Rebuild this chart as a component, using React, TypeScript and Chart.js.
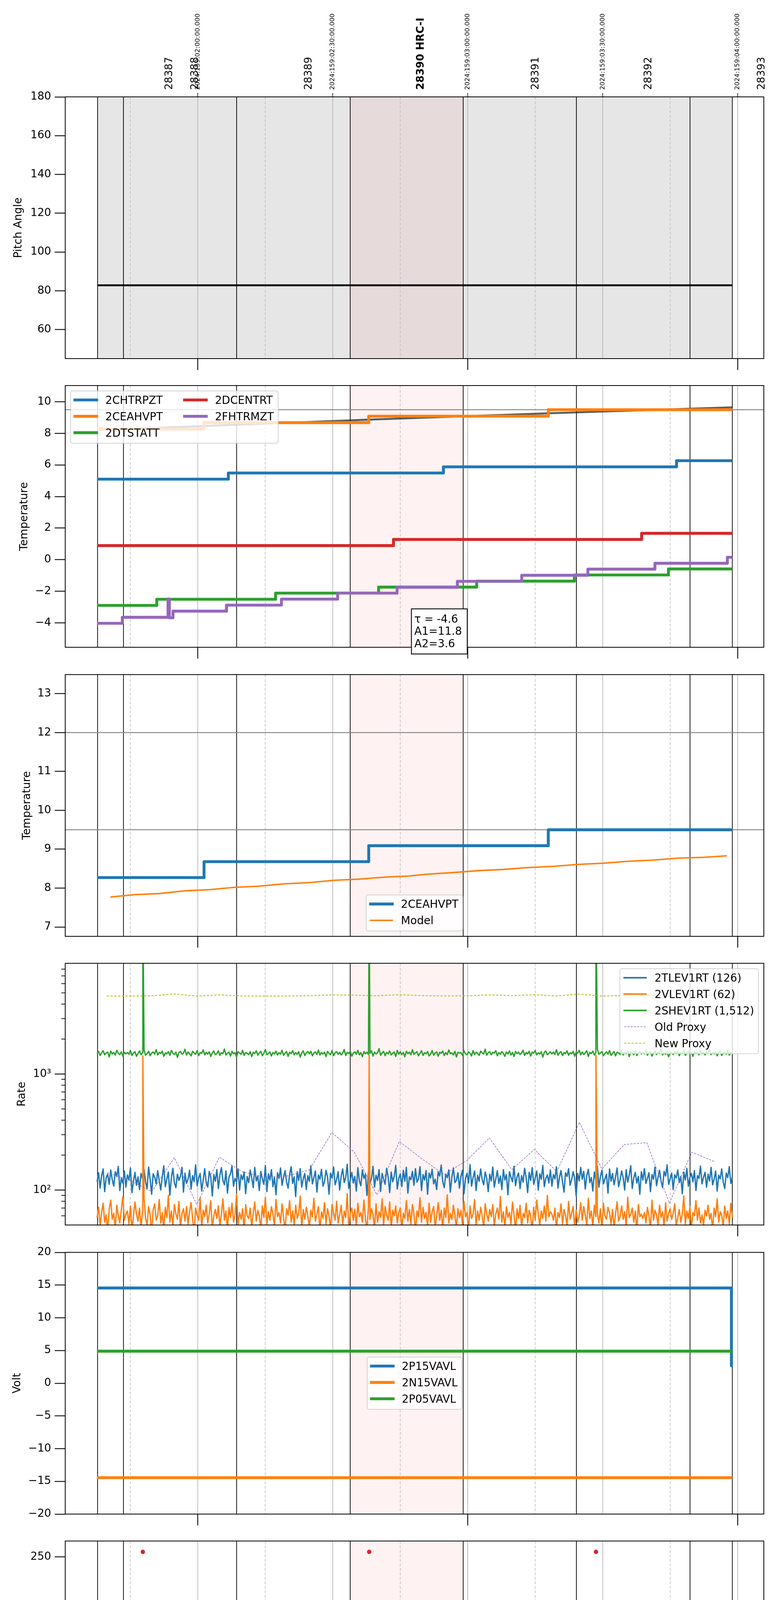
import { useEffect, useRef } from 'react';
import Chart from 'chart.js/auto';

Chart.defaults.font.family = 'DejaVu Sans';
Chart.defaults.color = '#000';

const FONT = 'DejaVu Sans';
const FS = 27.8;

// x axis in minutes after 22:00 local (= 2024:159:02:00:00 UTC)
const X_MIN = -29.45;
const X_MAX = 125.8;

const PANEL_TOPS = [248, 987, 1727, 2466, 3206, 3945, 4685, 5424];
const PANEL_H = 670;

const obsEdges = [-22.26, -16.5, 8.64, 33.88, 59.0, 84.15, 109.4, 118.8];
const hrcSpan = [33.88, 59.0];
const dataSpan = [-22.37, 118.8];
const obsLabels = ['28387', '28388', '28389', '28390 HRC-I', '28391', '28392', '28393'];
const obsLabelAt = [-6.3, -0.55, 24.7, 49.6, 75.1, 100.2, 125.4];
const utcTickAt = [0, 30, 60, 90, 120];
const utcLabels = ['2024:159:02:00:00.000', '2024:159:02:30:00.000', '2024:159:03:00:00.000', '2024:159:03:30:00.000', '2024:159:04:00:00.000'];
const halfHours = [0, 30, 60, 90, 120];
const quarters = [-15, 15, 45, 75, 105];
const hourTicks = [0, 60, 120];
const hourLabels = ['22h', '23h', '00h'];
const minorTickAt = [-15, 15, 30, 45, 75, 90, 105];
const minorLabels = ['45', '15', '30', '45', '15', '30', '45'];
const logMinor = [60, 70, 80, 90, 200, 300, 400, 500, 600, 700, 800, 900, 2000, 3000, 4000, 5000, 6000, 7000, 8000];

type P = [number, number][];

// ---- panel 1
const pitch: P = [[-22.26, 82.8], [118.8, 82.8]];

// ---- panel 2 / 3
const chtrpzt: P = [[-22.37, 5.1], [6.8, 5.49], [54.6, 5.88], [106.4, 6.27], [118.8, 6.27]];
const ceahvpt: P = [[-22.37, 8.27], [1.4, 8.68], [38.0, 9.09], [77.9, 9.5], [118.8, 9.5]];
const dtstatt: P = [[-22.37, -2.9], [-9.1, -2.51], [17.3, -2.12], [40.2, -1.74], [62.0, -1.36], [83.7, -0.97], [104.6, -0.59], [118.8, -0.59]];
const dcentrt: P = [[-22.37, 0.89], [43.5, 1.28], [98.65, 1.67], [118.8, 1.67]];
const fhtrmzt: P = [[-22.37, -4.03], [-16.76, -3.65], [-6.6, -2.49], [-6.3, -3.68], [-5.5, -3.26], [6.4, -2.88], [18.6, -2.5], [31.1, -2.12], [44.3, -1.75], [57.7, -1.37], [72.0, -0.99], [86.7, -0.6], [101.6, -0.23], [117.7, 0.15], [118.8, 0.15]];
const ceaModelT = [-22.37, 0, 38, 78, 118.8];
const ceaModelV = [8.22, 8.45, 8.87, 9.27, 9.65];
const modelT = [-19.4, -14.1, -8.5, -3.0, 2.5, 8.1, 13.6, 19.2, 24.7, 30.2, 35.8, 41.3, 46.9, 51.3, 56.8, 62.4, 67.9, 73.5, 79.0, 84.5, 90.1, 95.6, 101.2, 106.7, 112.2, 117.6];
const modelV = [7.77, 7.83, 7.86, 7.93, 7.96, 8.02, 8.05, 8.11, 8.14, 8.2, 8.23, 8.28, 8.31, 8.36, 8.4, 8.45, 8.48, 8.53, 8.56, 8.61, 8.64, 8.69, 8.72, 8.77, 8.79, 8.83];

// ---- panel 4 (rates, evenly sampled over the data span)
const tlev1rt = [
  118,141,104,133,152,97,128,137,112,149,123,108,144,131,160,99,127,115,146,106,
  135,122,155,95,119,142,110,130,101,139,126,151,117,103,158,124,92,138,129,113,
  147,120,100,131,162,107,125,143,90,128,154,116,105,137,121,132,157,96,140,114,
  124,148,102,133,118,165,109,127,139,98,122,153,115,106,145,130,89,136,119,150,
  103,134,156,121,111,146,94,129,138,161,108,126,117,152,100,135,123,143,93,131,
  116,149,127,105,157,120,132,99,145,125,112,163,97,138,122,150,107,128,91,141,
  126,155,110,129,147,117,104,136,159,114,130,88,144,121,153,106,125,139,101,133,
  119,162,113,128,146,96,135,124,151,108,118,148,130,92,140,127,158,111,123,144,
  100,132,152,116,128,167,103,122,142,115,131,98,156,120,109,149,126,137,90,145,
  114,127,160,106,134,121,150,97,139,124,112,154,129,95,143,118,131,163,102,126,
  138,107,148,119,157,94,130,123,145,110,153,117,125,159,99,136,122,147,92,140,
  127,151,113,124,101,144,132,164,118,105,137,128,149,96,129,155,116,121,141,104,
  131,148,93,126,139,115,166,108,128,146,99,134,119,152,123,111,143,127,97,137,
  120,158,106,125,147,114,132,101,150,122,136,91,144,129,118,161,109,130,140,103,
  133,117,154,128,95,142,121,156,112,127,146,100,138,124,163,107,126,135,115,149,
  108,136,125,159,104,129,147,118,96,141,131,153,110,122,144,127,89,139,120,157,
  124,145,102,133,151,116,128,98,143,121,160,106,130,148,113,125,137,94,152,119,
  139,111,130,155,107,123,146,128,100,150,117,134,162,103,127,142,115,131,92,144,
  122,153,114,126,141,97,136,124,158,109,129,148,119,105,145,132,165,112,125,140,
  101,135,127,149,116,131,93,143,122,154,108,128,139,118,147,99,133,126,161,113,
  129,142,106,137,120,157,111,124,146,98,134,125,152,117,103,140,128,159,114,130,
];
const vlev1rt = [
  58,71,49,64,77,53,61,44,69,82,56,63,47,74,60,52,67,88,55,62,
  66,51,73,45,59,79,62,54,70,48,65,85,57,50,72,61,43,68,76,55,
  60,83,52,64,46,71,58,90,53,66,49,75,62,56,80,47,63,69,54,72,
  51,65,78,57,42,70,61,55,86,48,67,59,74,52,63,81,46,60,68,57,
  73,49,62,84,55,66,45,71,58,77,53,61,92,50,64,56,69,44,75,60,
  57,70,48,63,79,54,67,60,46,73,58,87,51,65,55,72,62,49,83,59,
  64,52,76,58,45,69,61,81,53,66,50,74,57,63,89,47,68,56,71,60,
  48,67,59,85,54,62,72,44,65,57,78,51,69,60,46,75,63,55,80,52,
  61,74,50,66,58,93,47,63,70,55,68,49,77,59,64,53,82,57,45,71,
  56,69,62,47,76,53,65,58,84,50,72,61,55,79,48,67,60,73,52,64,
  70,46,63,57,81,54,68,51,75,62,44,66,59,86,53,71,57,64,49,77,
  53,65,72,48,60,78,55,67,46,70,58,91,52,63,56,74,61,47,69,58,
  67,51,80,59,64,45,73,57,62,83,50,66,55,71,60,48,76,63,54,68,
  59,75,49,62,70,56,88,53,65,47,72,58,64,51,79,61,45,69,57,74,
  48,63,58,77,52,67,60,44,71,55,82,62,50,66,57,73,54,90,59,65,
  62,55,70,46,64,58,76,51,68,61,49,80,56,63,72,47,67,53,60,78,
  55,72,61,50,85,57,66,48,74,59,63,52,69,45,77,60,56,71,64,51,
  68,47,63,79,54,60,73,56,65,49,87,58,62,70,53,66,44,75,59,62,
  57,64,52,71,60,46,82,55,67,61,50,74,58,65,48,78,54,63,69,56,
  63,76,49,58,68,53,62,89,51,66,57,72,47,64,60,81,55,70,52,61,
  50,67,60,74,56,63,45,70,59,84,53,65,61,48,73,57,66,51,77,58,
];
const shev1rt = [
  1496,1562,1441,1528,1587,1463,1519,1545,1402,1573,1488,1534,1455,1601,1507,1470,1550,1426,1539,1492,
  1531,1478,1594,1443,1515,1556,1421,1502,1580,1465,1524,1609,1451,1497,1568,1436,1511,1547,1484,1620,
  1459,1536,1502,1575,1418,1521,1489,1559,1447,1596,1508,1472,1541,1392,1527,1565,1480,1513,1634,1454,
  1548,1493,1431,1566,1517,1476,1589,1438,1529,1505,1612,1462,1537,1486,1553,1415,1522,1578,1468,1500,
  1583,1448,1525,1494,1640,1457,1512,1543,1425,1569,1490,1531,1404,1552,1518,1477,1598,1445,1534,1506,
  1470,1557,1413,1538,1501,1585,1452,1520,1567,1435,1509,1624,1466,1499,1546,1428,1532,1487,1574,1458,
  1526,1485,1603,1449,1514,1560,1420,1540,1497,1592,1461,1528,1475,1555,1398,1516,1581,1440,1523,1563,
  1491,1571,1432,1519,1549,1474,1606,1456,1530,1483,1542,1412,1564,1503,1469,1590,1437,1525,1558,1479,
  1537,1460,1511,1627,1444,1535,1499,1572,1423,1518,1554,1481,1599,1464,1529,1408,1561,1495,1540,1471,
  1505,1584,1427,1544,1487,1520,1653,1450,1515,1566,1439,1532,1492,1577,1458,1510,1547,1417,1596,1484,
  1553,1467,1532,1409,1570,1498,1543,1461,1617,1476,1524,1556,1433,1508,1585,1446,1527,1489,1562,1430,
  1480,1595,1453,1517,1551,1422,1539,1507,1576,1442,1530,1468,1610,1494,1521,1459,1568,1401,1536,1513,
  1528,1447,1582,1497,1463,1547,1515,1429,1593,1472,1541,1505,1445,1573,1516,1488,1636,1451,1520,1557,
  1465,1538,1511,1588,1434,1526,1479,1560,1502,1419,1549,1487,1579,1457,1533,1414,1565,1496,1543,1473,
  1516,1602,1443,1532,1490,1569,1428,1545,1512,1597,1460,1521,1485,1554,1396,1535,1578,1466,1509,1550,
  1487,1544,1474,1615,1452,1518,1561,1438,1530,1500,1583,1449,1527,1492,1566,1424,1540,1510,1604,1462,
  1548,1470,1523,1586,1416,1537,1499,1574,1455,1529,1644,1478,1514,1558,1436,1506,1552,1483,1591,1447,
  1503,1563,1431,1541,1518,1475,1599,1458,1536,1495,1571,1411,1546,1525,1464,1587,1441,1520,1556,1486,
  1532,1489,1608,1450,1527,1553,1426,1511,1580,1468,1539,1496,1625,1457,1522,1475,1562,1406,1544,1515,
  1471,1550,1498,1576,1439,1531,1507,1593,1446,1519,1561,1482,1535,1418,1570,1501,1530,1463,1589,1494,
  1524,1459,1542,1513,1628,1467,1537,1490,1557,1433,1526,1575,1448,1508,1548,1479,1605,1454,1529,1502,
];
const spikeT = [-12.2, 38.1, 88.5];
const shevSpikeV = [30000, 30000, 30000];
const vlevSpikeV = [1430, 1450, 1450];
const proxyT = [-20.2, -15.2, -10.2, -5.2, -0.2, 4.8, 9.8, 14.8, 19.8, 24.8, 29.8, 34.8, 39.8, 44.8, 49.8, 54.8, 59.8, 64.8, 69.8, 74.8, 79.8, 84.8, 89.8, 94.8, 99.8, 104.8, 109.8, 114.8];
const oldProxy = [141, 122, 97, 190, 75, 192, 144, 129, 132, 149, 313, 212, 91, 262, 186, 136, 180, 281, 150, 224, 144, 384, 152, 247, 256, 77, 212, 176];
const newProxy = [4690, 4690, 4720, 4880, 4690, 4800, 4700, 4690, 4700, 4720, 4800, 4780, 4720, 4820, 4740, 4700, 4720, 4800, 4740, 4820, 4700, 4880, 4690, 4740, 4780, 4740, 4740, 4740];

// ---- panel 5
const p15vavl: P = [[-22.37, 14.55], [118.6, 2.67], [118.8, 2.67]];
const n15vavl: P = [[-22.37, -14.44], [118.8, -14.44]];
const p05vavl: P = [[-22.37, 4.9], [118.8, 4.9]];

// ---- panel 6 (evenly sampled over the data span)
const imhvlv = [
  79,79,80,79,79,79,81,79,79,80,79,79,79,79,80,79,79,81,79,79,
  80,79,79,79,79,80,79,79,79,81,79,79,80,79,79,79,79,80,79,79,
  79,81,79,79,80,79,79,79,79,79,80,79,81,79,79,79,80,79,79,79,
  79,80,79,79,79,81,79,80,79,79,79,79,80,79,79,81,79,79,79,80,
  79,79,79,80,79,79,81,79,79,79,80,79,79,79,79,80,79,81,79,79,
  80,79,79,79,81,79,79,80,79,79,79,79,80,79,79,79,81,79,80,79,
  79,79,80,79,79,81,79,79,79,80,79,79,79,79,80,79,81,79,79,79,
  80,79,79,81,79,79,80,79,79,79,79,80,79,79,81,79,79,79,80,79,
  79,81,79,79,80,79,79,79,79,80,79,79,81,79,79,80,79,79,79,80,
  79,79,80,79,81,79,79,79,80,79,79,79,79,81,79,80,79,79,79,79,
  80,79,79,79,79,80,79,81,79,79,79,80,79,79,79,79,80,79,79,81,
  79,80,79,79,81,79,79,79,80,79,79,79,80,79,79,81,79,79,80,79,
  79,79,79,80,79,79,79,81,79,80,79,79,79,79,80,79,79,79,81,79,
  81,79,79,80,79,79,79,79,80,79,81,79,79,79,80,79,79,79,79,80,
  79,79,81,79,79,80,79,79,79,79,81,79,80,79,79,79,79,80,79,79,
  80,79,79,79,80,79,81,79,79,79,79,80,79,79,81,79,79,80,79,79,
  79,80,79,79,79,81,79,79,80,79,79,79,79,80,79,79,81,79,79,79,
  79,79,80,79,79,79,81,79,79,80,79,79,79,80,79,79,79,81,79,80,
];
const imhblv = [
  86,86,86,86,86,86,86,86,86,86,86,86,86,86,86,86,86,86,86,86,
  86,86,86,86,86,86,86,86,86,86,86,86,86,86,86,86,86,86,86,86,
  86,86,86,86,86,86,86,86,86,86,86,86,86,86,86,86,86,86,86,86,
  86,86,86,86,86,86,86,86,86,86,86,86,86,86,86,86,86,86,86,86,
  86,86,86,86,86,86,86,86,86,86,86,86,86,86,86,86,86,86,86,86,
  86,86,86,86,86,86,86,86,86,86,86,86,86,86,86,86,86,86,86,86,
  86,86,86,86,86,86,86,86,86,86,86,86,86,86,86,86,86,86,86,86,
  86,86,86,86,86,86,86,86,86,86,86,86,86,86,86,86,86,86,86,86,
  86,86,86,86,86,86,86,86,86,86,86,86,86,86,86,86,86,86,86,86,
  86,86,86,86,86,86,86,86,86,86,86,86,86,86,86,86,86,86,86,86,
  86,86,86,86,86,86,86,86,86,86,86,86,86,86,86,86,86,86,86,86,
  86,86,86,86,86,86,86,86,86,86,86,86,86,86,86,86,86,86,86,86,
  86,86,86,86,86,86,86,86,86,86,86,86,86,86,86,86,86,86,86,86,
  86,86,86,86,86,86,86,86,86,86,86,86,86,86,86,86,86,86,86,86,
  86,86,86,86,86,86,86,86,86,86,86,86,86,86,86,86,86,86,86,86,
  86,86,86,86,86,86,86,86,86,86,86,86,86,86,86,86,86,86,86,86,
  86,86,86,86,86,86,86,86,86,86,86,86,86,86,86,86,86,86,86,86,
  86,86,86,86,86,86,86,86,86,86,86,86,86,86,86,86,86,86,86,86,
];
const imhvlvOutT = [-21.8, -14.6, -11.3];
const imhvlvOutV = [127, 127, 127];
const imhblvOutT = [-21.8, -14.6, -11.3, -12.2, 38.1, 88.5];
const imhblvOutV = [79, 79, 79, 255, 255, 255];

// ---- panel 7
const spinatm: P = [[-22.37, 2.69], [-22.0, -3], [-21.7, 2.69], [-21.2, -3], [-20.9, 2.69], [-20.3, -3], [-20.0, 2.69], [-19.5, -3], [-19.2, 2.69], [-18.7, -3], [-18.4, 2.69], [-14.6, -3], [-14.3, 2.69], [-11.0, -3], [-10.7, 2.69], [-10.4, -3], [-10.1, 2.69], [20.26, 3.16], [111.9, 3.65], [118.8, 3.65]];
const sphvatm: P = [[-22.37, 15.69], [-22.0, 9.33], [-21.7, 15.69], [-21.2, 9.33], [-20.9, 15.69], [-20.3, 9.33], [-20.0, 15.69], [-19.5, 9.33], [-19.2, 15.69], [-18.7, 9.33], [-18.4, 15.69], [-14.6, 9.33], [-14.3, 15.69], [-11.0, 9.6], [-10.7, 15.69], [-10.4, 9.6], [-10.1, 15.69], [-2.44, 16.03], [1.2, 15.62], [1.4, 16.03], [28.0, 16.38], [28.4, 16.03], [29.1, 16.38], [60.7, 16.73], [65.7, 16.38], [65.9, 16.73], [94.4, 17.09], [118.8, 17.09]];
const iminatm: P = [[-22.37, 0.81], [-22.0, 2.76], [-21.7, 0.81], [-21.2, 2.76], [-20.9, 0.81], [-20.3, 2.76], [-20.0, 0.81], [-19.5, 2.76], [-19.2, 0.81], [-18.7, 2.76], [-18.4, 0.81], [-14.6, 2.76], [-14.3, 0.81], [-11.0, 2.76], [-10.7, 0.81], [-10.4, 2.76], [-10.1, 0.81], [30.4, 1.27], [96.1, 1.74], [118.8, 1.74]];
const imhvatm: P = [[-22.37, 16.72], [-22.15, 17.09], [-21.8, 15.61], [-21.5, 17.09], [-20.7, 15.61], [-20.4, 17.09], [-19.8, 15.61], [-19.5, 17.09], [-18.9, 15.61], [-18.6, 17.09], [-14.6, 15.61], [-14.3, 17.09], [-12.2, -3], [-12.0, 17.09], [-10.8, 15.61], [-10.5, 17.09], [-5.76, 17.44], [14.4, 17.78], [38.1, -3], [38.3, 17.78], [38.9, 18.13], [62.6, 18.64], [62.8, 18.13], [64.2, 18.5], [88.5, -3], [88.7, 18.5], [95.5, 18.86], [118.8, 18.86]];

// ---- panel 8
const fradpyt: P = [[-22.37, -6.77], [-20.2, -6.38], [-7.2, -5.98], [6.09, -5.59], [19.93, -5.2], [33.9, -4.81], [48.8, -4.42], [64.2, -4.03], [80.4, -3.64], [96.9, -3.26], [114.0, -2.89], [118.8, -2.89]];
const fepratm: P = [[-22.37, -2.26], [-21.8, -6.05], [-21.5, -2.26], [-20.3, -6.05], [-20.0, -2.26], [-19.0, -6.05], [-18.7, -2.26], [-18.4, -1.84], [-14.6, -6.05], [-14.3, -1.84], [-12.2, -6.05], [-12.0, -1.84], [-11.3, -6.05], [-11.0, -1.84], [-10.4, -6.05], [-10.1, -1.84], [-6.3, -1.4], [6.4, -0.96], [19.7, -0.53], [34.1, -0.09], [38.1, -2.25], [38.3, -0.09], [48.8, 0.36], [64.9, 0.81], [81.5, 1.26], [88.5, -0.54], [88.7, 1.26], [99.4, 1.71], [117.5, 2.19], [118.8, 2.19]];
const fe00atm: P = [[-22.37, -4.32], [-22.2, 5], [-21.9, -4.32], [-20.4, 5], [-19.9, -4.32], [-18.8, 5], [-18.5, -4.32], [-18.0, 5], [-17.7, -3.97], [-12.2, -9], [-12.0, -3.97], [-11.4, 5], [-11.2, -3.97], [-10.5, 5], [-10.3, -3.97], [-8.5, -3.6], [0.66, -3.29], [9.96, -2.96], [19.7, -2.62], [20.3, -2.26], [20.5, -2.62], [25.0, -2.96], [25.2, -2.62], [30.0, -2.3], [34.1, -1.91], [34.3, -2.3], [38.1, -9], [38.3, -2.3], [40.4, -1.94], [41.4, -1.59], [41.6, -1.94], [51.0, -1.62], [54.7, -1.99], [54.9, -1.62], [62.3, -1.28], [73.7, -0.96], [84.8, -1.32], [85.0, -0.62], [87.3, -1.01], [87.5, -0.62], [88.5, -9], [88.7, -0.62], [97.5, -0.3], [109.7, 0.03], [118.8, 0.03]];

const BLUE = '#1f77b4', ORANGE = '#ff7f0e', GREEN = '#2ca02c', RED = '#d62728', PURPLE = '#9467bd', OLIVE = '#bcbd22';

const zip = (t: number[], v: number[]): P => t.map((x, i) => [x, v[i]]);
const onSpan = (vals: number[]): P => vals.map((v, i) => [dataSpan[0] + (i * (dataSpan[1] - dataSpan[0])) / (vals.length - 1), v]);
const merge = (a: P, b: P): P => [...a, ...b].sort((p, q) => p[0] - q[0]);
const stepify = (pts: P): P => {
  const out: P = [];
  pts.forEach((p, i) => {
    if (i > 0) out.push([p[0], pts[i - 1][1]]);
    out.push(p);
  });
  return out;
};

type Series = { label: string; color: string; width: number; pts: P; step?: boolean; dash?: number[]; dots?: boolean; hideLegend?: boolean; legendWidth?: number };
type PanelDef = {
  title: string; titleX: number; min: number; max: number; ticks: number[]; fmt: (v: number) => string;
  log?: boolean; series: Series[]; legend?: { loc: string; ncol?: number }; hlines?: number[]; greyFill?: boolean; note?: string[];
};

const intFmt = (v: number) => (v < 0 ? '\u2212' : '') + Math.abs(v);
const decFmt = (v: number) => (v < 0 ? '\u2212' : '') + Math.abs(v).toFixed(1);
const logFmt = (v: number) => (v === 100 ? '10\u00b2' : v === 1000 ? '10\u00b3' : '');

const PANELS: PanelDef[] = [
  {
    title: 'Pitch Angle', titleX: 48, min: 45, max: 180, ticks: [60, 80, 100, 120, 140, 160, 180], fmt: intFmt, greyFill: true,
    series: [{ label: 'pitch', color: '#000', width: 4.8, pts: pitch, hideLegend: true }],
  },
  {
    title: 'Temperature', titleX: 63, min: -5.55, max: 11.03, ticks: [-4, -2, 0, 2, 4, 6, 8, 10], fmt: intFmt, hlines: [9.5],
    legend: { loc: 'upper left', ncol: 2 }, note: ['\u03c4 = -4.6', 'A1=11.8', 'A2=3.6'],
    series: [
      { label: 'model', color: 'rgba(40,40,40,0.75)', width: 5, pts: zip(ceaModelT, ceaModelV), hideLegend: true },
      { label: '2CHTRPZT', color: BLUE, width: 7.4, pts: chtrpzt, step: true },
      { label: '2CEAHVPT', color: ORANGE, width: 7.4, pts: ceahvpt, step: true },
      { label: '2DTSTATT', color: GREEN, width: 7.4, pts: dtstatt, step: true },
      { label: '2DCENTRT', color: RED, width: 7.4, pts: dcentrt, step: true },
      { label: '2FHTRMZT', color: PURPLE, width: 7.4, pts: fhtrmzt, step: true },
    ],
  },
  {
    title: 'Temperature', titleX: 70, min: 6.76, max: 13.49, ticks: [7, 8, 9, 10, 11, 12, 13], fmt: intFmt, hlines: [12, 9.5],
    legend: { loc: 'lower center' },
    series: [
      { label: '2CEAHVPT', color: BLUE, width: 7.4, pts: ceahvpt, step: true },
      { label: 'Model', color: ORANGE, width: 3.8, pts: zip(modelT, modelV) },
    ],
  },
  {
    title: 'Rate', titleX: 57, min: 50, max: 8990, ticks: [100, 1000], fmt: logFmt, log: true,
    legend: { loc: 'upper right' },
    series: [
      { label: '2TLEV1RT (126)', color: BLUE, width: 3.4, legendWidth: 4, pts: onSpan(tlev1rt) },
      { label: '2VLEV1RT (62)', color: ORANGE, width: 3.4, legendWidth: 4, pts: merge(onSpan(vlev1rt), zip(spikeT, vlevSpikeV)) },
      { label: '2SHEV1RT (1,512)', color: GREEN, width: 3.4, legendWidth: 4, pts: merge(onSpan(shev1rt), zip(spikeT, shevSpikeV)) },
      { label: 'Old Proxy', color: PURPLE, width: 1.5, dash: [5.5, 2.8], pts: zip(proxyT, oldProxy) },
      { label: 'New Proxy', color: OLIVE, width: 2.2, dash: [6, 3.5], pts: zip(proxyT, newProxy) },
    ],
  },
  {
    title: 'Volt', titleX: 45, min: -20, max: 20, ticks: [-20, -15, -10, -5, 0, 5, 10, 15, 20], fmt: intFmt,
    legend: { loc: 'center' },
    series: [
      { label: '2P15VAVL', color: BLUE, width: 7.4, pts: p15vavl, step: true },
      { label: '2N15VAVL', color: ORANGE, width: 7.4, pts: n15vavl, step: true },
      { label: '2P05VAVL', color: GREEN, width: 7.4, pts: p05vavl, step: true },
    ],
  },
  {
    title: 'HV Monitor', titleX: 51, min: 0, max: 266, ticks: [0, 50, 100, 150, 200, 250], fmt: intFmt,
    legend: { loc: 'lower center' },
    series: [
      { label: '2SPHBLV', color: BLUE, width: 5.6, pts: [], dots: true },
      { label: '2SPHVLV', color: ORANGE, width: 5.6, pts: [], dots: true },
      { label: '2IMHVLV', color: GREEN, width: 5.6, pts: [...onSpan(imhvlv), ...zip(imhvlvOutT, imhvlvOutV)], dots: true },
      { label: '2IMHBLV', color: RED, width: 5.6, pts: [...onSpan(imhblv), ...zip(imhblvOutT, imhblvOutV)], dots: true },
    ],
  },
  {
    title: 'Detector Temp', titleX: 43, min: -0.68, max: 20, ticks: [0, 2.5, 5, 7.5, 10, 12.5, 15, 17.5], fmt: decFmt,
    legend: { loc: 'center right' },
    series: [
      { label: '2SPINATM', color: BLUE, width: 7.4, pts: spinatm, step: true },
      { label: '2SPHVATM', color: ORANGE, width: 7.4, pts: sphvatm, step: true },
      { label: '2IMINATM', color: GREEN, width: 7.4, pts: iminatm, step: true },
      { label: '2IMHVATM', color: RED, width: 7.4, pts: imhvatm, step: true },
    ],
  },
  {
    title: 'FEA Temp', titleX: 62, min: -7.09, max: 2.755, ticks: [-6, -4, -2, 0, 2], fmt: intFmt,
    legend: { loc: 'lower right' },
    series: [
      { label: '2FHTRMZT', color: BLUE, width: 7.4, pts: fhtrmzt, step: true },
      { label: '2FRADPYT', color: ORANGE, width: 7.4, pts: fradpyt, step: true },
      { label: '2FEPRATM', color: GREEN, width: 7.4, pts: fepratm, step: true },
      { label: '2FE00ATM', color: RED, width: 7.4, pts: fe00atm, step: true },
    ],
  },
];

function drawLegend(ctx: CanvasRenderingContext2D, a: any, series: Series[], loc: string, ncol: number) {
  const items = series.filter((s) => !s.hideLegend);
  const rows = Math.ceil(items.length / ncol);
  const pitchY = 41.9;
  ctx.font = `${FS}px ${FONT}`;
  const colW: number[] = [];
  for (let c = 0; c < ncol; c++) {
    const tw = items.slice(c * rows, (c + 1) * rows).map((s) => ctx.measureText(s.label).width);
    colW.push(55.6 + 22.2 + Math.max(...tw));
  }
  const W = 11 + colW.reduce((p, q) => p + q, 0) + 55.6 * (ncol - 1) + 11;
  const H = 50 + (rows - 1) * pitchY;
  const pad = 13.9;
  const cx = (a.left + a.right) / 2, cy = (a.top + a.bottom) / 2;
  let L = a.left + pad, T = a.top + pad;
  if (loc === 'upper right') { L = a.right - pad - W; }
  else if (loc === 'lower center') { L = cx - W / 2; T = a.bottom - pad - H; }
  else if (loc === 'center') { L = cx - W / 2; T = cy - H / 2; }
  else if (loc === 'center right') { L = a.right - pad - W; T = cy - H / 2; }
  else if (loc === 'lower right') { L = a.right - pad - W; T = a.bottom - pad - H; }
  ctx.save();
  ctx.beginPath();
  ctx.roundRect(L, T, W, H, 5);
  ctx.fillStyle = 'rgba(255,255,255,0.8)';
  ctx.fill();
  ctx.strokeStyle = 'rgba(204,204,204,0.8)';
  ctx.lineWidth = 2.2;
  ctx.stroke();
  items.forEach((s, k) => {
    const c = Math.floor(k / rows), r = k % rows;
    const x0 = L + 11 + colW.slice(0, c).reduce((p, q) => p + q, 0) + 55.6 * c;
    const y = T + 23 + r * pitchY;
    if (s.dots) {
      ctx.beginPath();
      ctx.fillStyle = s.color;
      ctx.arc(x0 + 27.8, y, s.width, 0, Math.PI * 2);
      ctx.fill();
    } else {
      ctx.beginPath();
      ctx.setLineDash(s.dash || []);
      ctx.lineCap = s.dash ? 'butt' : 'square';
      ctx.strokeStyle = s.color;
      ctx.lineWidth = s.legendWidth || s.width;
      ctx.moveTo(x0, y);
      ctx.lineTo(x0 + 55.6, y);
      ctx.stroke();
      ctx.setLineDash([]);
    }
    ctx.fillStyle = '#000';
    ctx.textAlign = 'left';
    ctx.textBaseline = 'alphabetic';
    ctx.fillText(s.label, x0 + 77.8, y + 10.1);
  });
  ctx.restore();
}

function makeDecor(def: PanelDef, idx: number) {
  return {
    id: 'decor' + idx,
    beforeDatasetsDraw(chart: any) {
      const { ctx, chartArea: a } = chart;
      const xs = chart.scales.x, ys = chart.scales.y;
      const px = (t: number) => xs.getPixelForValue(t);
      const h = a.bottom - a.top;
      ctx.save();
      ctx.beginPath();
      ctx.rect(a.left, a.top, a.right - a.left, h);
      ctx.clip();
      if (def.greyFill) {
        ctx.fillStyle = 'rgba(128,128,128,0.2)';
        ctx.fillRect(px(obsEdges[0]), a.top, px(obsEdges[obsEdges.length - 1]) - px(obsEdges[0]), h);
      }
      ctx.fillStyle = 'rgba(255,0,0,0.05)';
      ctx.fillRect(px(hrcSpan[0]), a.top, px(hrcSpan[1]) - px(hrcSpan[0]), h);
      const vline = (t: number, color: string, w: number, dash: number[]) => {
        ctx.beginPath();
        ctx.setLineDash(dash);
        ctx.strokeStyle = color;
        ctx.lineWidth = w;
        ctx.moveTo(px(t), a.top);
        ctx.lineTo(px(t), a.bottom);
        ctx.stroke();
      };
      halfHours.forEach((t) => vline(t, '#b4b4b4', 1.7, []));
      quarters.forEach((t) => vline(t, '#b8b8b8', 1.5, [7, 4.5]));
      obsEdges.forEach((t) => vline(t, '#000', 1.8, []));
      ctx.setLineDash([]);
      (def.hlines || []).forEach((v) => {
        const y = ys.getPixelForValue(v);
        ctx.beginPath();
        ctx.strokeStyle = '#808080';
        ctx.lineWidth = 2.2;
        ctx.moveTo(a.left, y);
        ctx.lineTo(a.right, y);
        ctx.stroke();
      });
      ctx.restore();
    },
    afterDatasetsDraw(chart: any) {
      const { ctx, chartArea: a } = chart;
      const xs = chart.scales.x, ys = chart.scales.y;
      const px = (t: number) => xs.getPixelForValue(t);
      const seg = (x1: number, y1: number, x2: number, y2: number) => {
        ctx.beginPath();
        ctx.moveTo(x1, y1);
        ctx.lineTo(x2, y2);
        ctx.stroke();
      };
      ctx.save();
      ctx.strokeStyle = '#000';
      ctx.lineWidth = 2;
      ctx.strokeRect(a.left, a.top, a.right - a.left, a.bottom - a.top);
      ctx.lineWidth = 2.2;
      hourTicks.forEach((t) => seg(px(t), a.bottom, px(t), a.bottom + 29));
      if (def.log) {
        ctx.lineWidth = 1.8;
        logMinor.filter((v) => v > def.min && v < def.max).forEach((v) => {
          const y = ys.getPixelForValue(v);
          seg(a.left - 10, y, a.left, y);
        });
      }
      ctx.fillStyle = '#000';
      if (idx === 0) {
        ctx.lineWidth = 1.5;
        utcTickAt.forEach((t) => seg(px(t), a.top, px(t), a.top - 10));
        const rot = (x: number, text: string, font: string) => {
          ctx.save();
          ctx.translate(x, a.top - 18);
          ctx.rotate(-Math.PI / 2);
          ctx.font = font;
          ctx.textAlign = 'left';
          ctx.textBaseline = 'middle';
          ctx.fillText(text, 0, 0);
          ctx.restore();
        };
        utcTickAt.forEach((t, i) => rot(px(t), utcLabels[i], `16.5px ${FONT}`));
        obsLabelAt.forEach((t, i) => rot(px(t), obsLabels[i], `${i === 3 ? 'bold ' : ''}26.5px ${FONT}`));
      }
      if (idx === PANELS.length - 1) {
        ctx.textAlign = 'center';
        ctx.textBaseline = 'middle';
        ctx.font = `18px ${FONT}`;
        minorTickAt.forEach((t, i) => ctx.fillText(minorLabels[i], px(t), a.bottom + 11));
        ctx.font = `${FS}px ${FONT}`;
        hourTicks.forEach((t, i) => ctx.fillText(hourLabels[i], px(t), a.bottom + 47));
        ctx.font = `33.4px ${FONT}`;
        ctx.fillText('2024-06-07 (159)', (a.left + a.right) / 2, a.bottom + 86);
      }
      if (def.legend) drawLegend(ctx, a, def.series, def.legend.loc, def.legend.ncol || 1);
      if (def.note) {
        const L = a.left + 886.6, T = a.top + 571.7;
        ctx.fillStyle = '#fff';
        ctx.fillRect(L, T, 143, 115.5);
        ctx.strokeStyle = '#000';
        ctx.lineWidth = 2.2;
        ctx.strokeRect(L, T, 143, 115.5);
        ctx.fillStyle = '#000';
        ctx.font = `${FS}px ${FONT}`;
        ctx.textAlign = 'left';
        ctx.textBaseline = 'alphabetic';
        def.note.forEach((line, i) => ctx.fillText(line, L + 7.5, T + 24.8 + i * 31.8 + 10.1));
      }
      ctx.restore();
    },
  };
}

function buildConfig(def: PanelDef, idx: number, padTop: number, padBottom: number): any {
  const drawn = def.series.filter((s) => s.pts.length > 0);
  const datasets = drawn.map((s, i) => ({
    label: s.label,
    data: (s.step ? stepify(s.pts) : s.pts).map(([x, y]) => ({ x, y })),
    borderColor: s.color,
    backgroundColor: s.color,
    borderWidth: s.dots ? 0 : s.width,
    borderDash: s.dash || [],
    showLine: !s.dots,
    pointRadius: s.dots ? s.width : 0,
    pointHoverRadius: 0,
    pointBorderWidth: 0,
    pointBackgroundColor: s.color,
    borderJoinStyle: 'round',
    borderCapStyle: 'butt',
    fill: false,
    tension: 0,
    order: drawn.length - i,
  }));
  return {
    type: 'line',
    data: { datasets },
    options: {
      animation: false,
      responsive: true,
      maintainAspectRatio: false,
      events: [],
      layout: { padding: { left: 0, right: 44, top: padTop, bottom: padBottom } },
      plugins: { legend: { display: false }, tooltip: { enabled: false } },
      scales: {
        x: { type: 'linear', min: X_MIN, max: X_MAX, display: false },
        y: {
          type: def.log ? 'logarithmic' : 'linear',
          min: def.min,
          max: def.max,
          bounds: 'data',
          afterBuildTicks: (s: any) => { s.ticks = def.ticks.map((v) => ({ value: v })); },
          afterFit: (s: any) => { s.width = 167; },
          ticks: { callback: (v: number) => def.fmt(v), padding: 9, autoSkip: false, color: '#000', font: { family: FONT, size: FS } },
          grid: { display: true, drawOnChartArea: false, drawTicks: true, tickLength: 27, tickWidth: 2.2, tickColor: '#000' },
          border: { display: false },
          title: { display: true, text: def.title, color: '#000', font: { family: FONT, size: FS }, padding: { top: def.titleX - FS * 0.6, bottom: 0 } },
        },
      },
    },
    plugins: [makeDecor(def, idx)],
  };
}

function Panel({ def, idx }: { def: PanelDef; idx: number }) {
  const canvas = useRef<HTMLCanvasElement | null>(null);
  const last = PANELS.length - 1;
  const top = idx === 0 ? 0 : PANEL_TOPS[idx] - 35;
  const bottom = idx === last ? 6200 : PANEL_TOPS[idx] + PANEL_H + 35;
  const padTop = PANEL_TOPS[idx] - top;
  const padBottom = bottom - (PANEL_TOPS[idx] + PANEL_H);
  useEffect(() => {
    if (!canvas.current) return;
    const chart = new Chart(canvas.current, buildConfig(def, idx, padTop, padBottom));
    return () => chart.destroy();
  }, [def, idx, padTop, padBottom]);
  return (
    <div style={{ position: 'absolute', left: 0, top, width: 2000, height: bottom - top }}>
      <canvas ref={canvas}></canvas>
    </div>
  );
}

export default function App() {
  return (
    <div style={{ position: 'relative', width: 2000, height: 6200, margin: '-8px 0 0 -8px', background: '#fff' }}>
      {PANELS.map((def, i) => (
        <Panel key={i} def={def} idx={i} />
      ))}
    </div>
  );
}
